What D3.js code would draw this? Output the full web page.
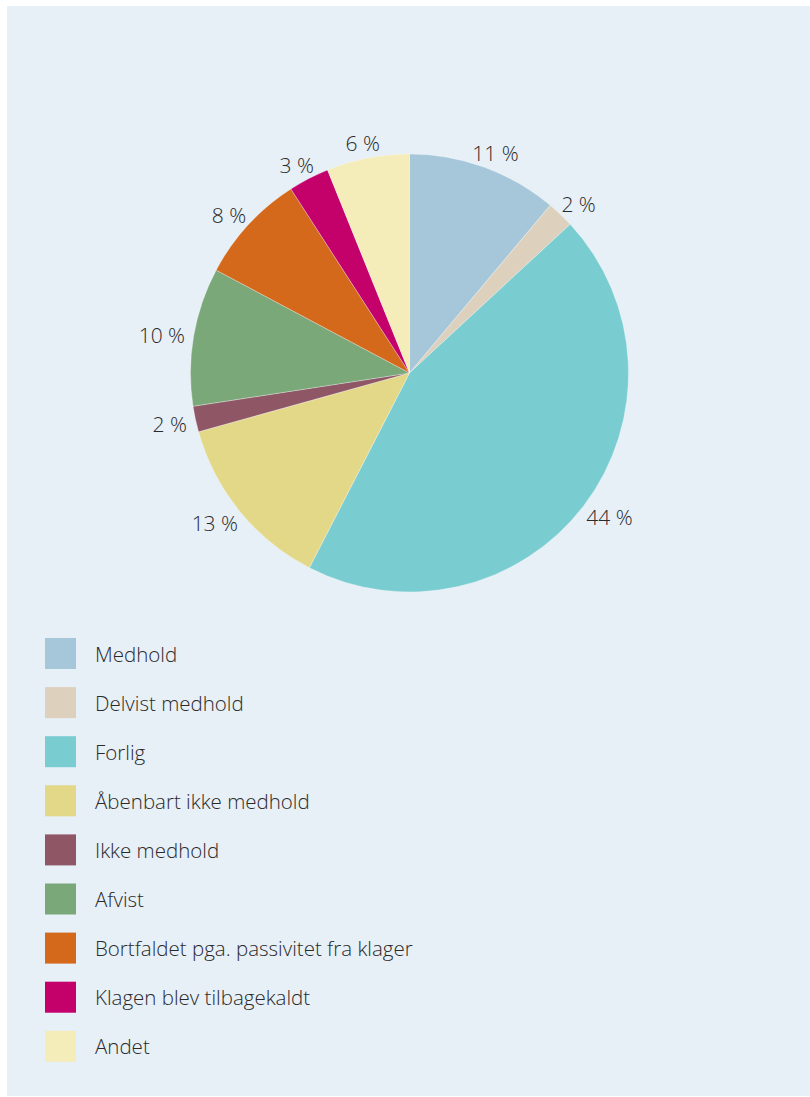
<!DOCTYPE html>
<html>
<head>
<meta charset="utf-8">
<script src="https://cdn.jsdelivr.net/npm/d3@7"></script>
<style>
  html, body { margin: 0; padding: 0; background: #fff; }
  svg { display: block; }
  text { font-family: "Open Sans", "Noto Sans", sans-serif; font-weight: 300; fill: #2a2a2a; }
</style>
</head>
<body>
<svg id="chart" width="810" height="1097"></svg>
<script>
// Data
const categories = ['Medhold', 'Delvist medhold', 'Forlig', 'Åbenbart ikke medhold', 'Ikke medhold',
    'Afvist', 'Bortfaldet pga. passivitet fra klager', 'Klagen blev tilbagekaldt', 'Andet'];
const shares = [11.1, 2.0, 44.4, 13.1, 1.9, 10.2, 8.1, 3.0, 6.1];
const colors = ['#a5c7d9', '#ddd1be', '#79cdd0', '#e2d887', '#8f5766',
    '#7aa878', '#d4691c', '#c4006b', '#f4ecb9'];

// Layout
const width = 810, height = 1097;
const cx = 409.5, cy = 373, radius = 219;
const label_gap = 9;
const legend_x = 45, legend_y = 638, legend_step = 49.1, swatch = 31;

const svg = d3.select('#chart');

svg.append('rect')
    .attr('x', 7).attr('y', 6)
    .attr('width', width - 7).attr('height', height - 7)
    .attr('fill', '#e7eff7');

const pie = d3.pie().sort(null).value(d => d);
const arcs = pie(shares);
const arc = d3.arc().innerRadius(0).outerRadius(radius);

const g = svg.append('g').attr('transform', `translate(${cx}, ${cy})`);

g.selectAll('path.slice')
    .data(arcs)
    .join('path')
    .attr('class', 'slice')
    .attr('d', arc)
    .attr('fill', (d, i) => colors[i])
    .attr('stroke', '#ffffff')
    .attr('stroke-opacity', 0.5)
    .attr('stroke-width', 0.6);

const fmt = v => d3.format('.0f')(v) + ' %';

// labels outside the pie, pushed out by half their size
const labels = g.selectAll('text.pct')
    .data(arcs)
    .join('text')
    .attr('class', 'pct')
    .attr('font-size', 21)
    .attr('text-anchor', 'middle')
    .text(d => fmt(d.data));

labels.each(function(d) {
    const a = (d.startAngle + d.endAngle) / 2;
    const w = this.getComputedTextLength();
    const h = 15;
    const s = Math.sin(a), c = -Math.cos(a);
    const x = s * (radius + label_gap) + s * w / 2;
    const y = c * (radius + label_gap) + c * h / 2 + 2;
    d3.select(this).attr('x', x).attr('y', y + h / 2);
});

// Legend
const legend = svg.append('g')
    .selectAll('g.item')
    .data(categories)
    .join('g')
    .attr('class', 'item')
    .attr('transform', (d, i) => `translate(${legend_x}, ${legend_y + i * legend_step})`);

legend.append('rect')
    .attr('width', swatch).attr('height', swatch)
    .attr('fill', (d, i) => colors[i]);

legend.append('text')
    .attr('x', 50)
    .attr('y', 23.5)
    .attr('font-size', 20.5)
    .text(d => d);
</script>
</body>
</html>
